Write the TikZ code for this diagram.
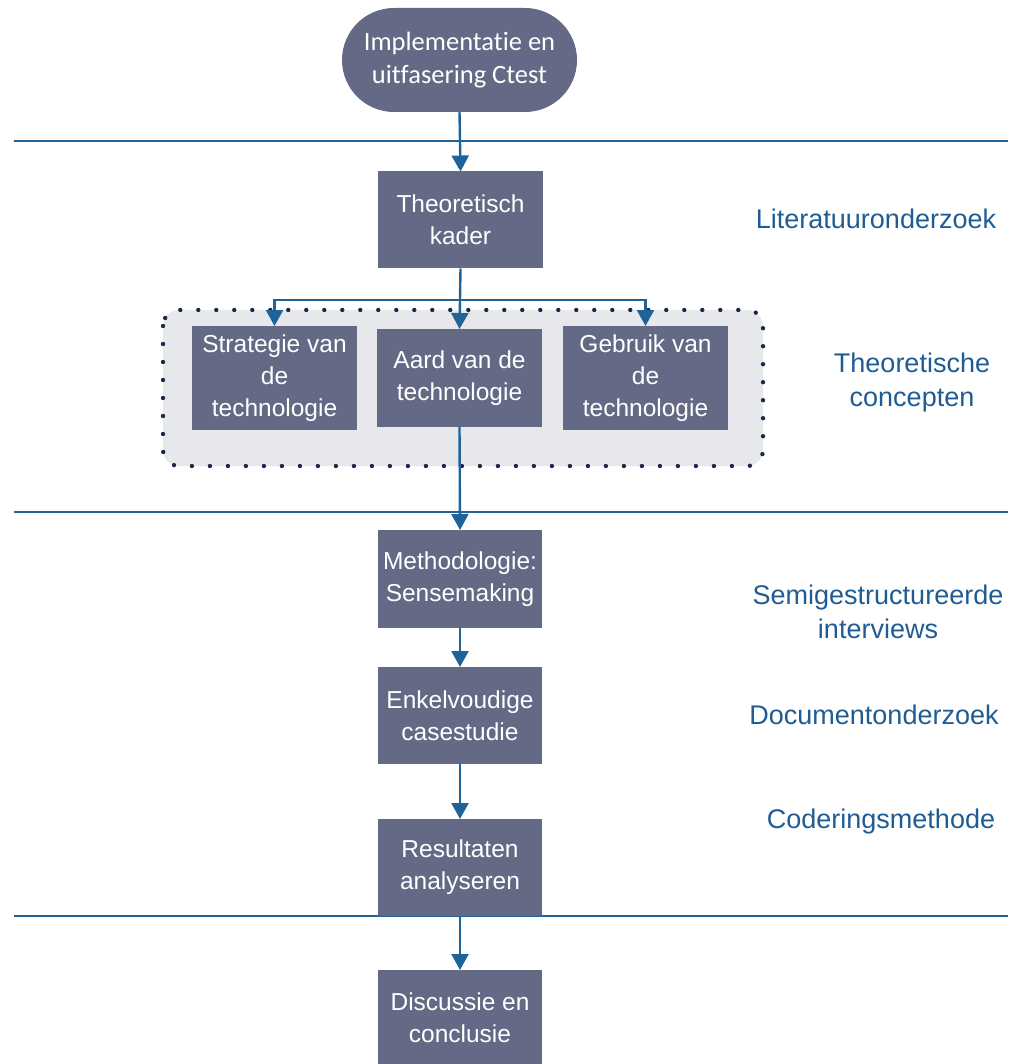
\documentclass[tikz,border=0pt]{standalone}
\usepackage{fontspec}
\setmainfont{Liberation Sans}
\newfontfamily\calfont[Ligatures=NoCommon]{Carlito}
\usetikzlibrary{arrows.meta,positioning}
\definecolor{boxc}{HTML}{646A85}
\definecolor{linec}{HTML}{1F6399}
\definecolor{labc}{HTML}{1F5C94}
\definecolor{greyc}{HTML}{E7E8EC}
\definecolor{dotc}{HTML}{1A2A4F}
\begin{document}
\begin{tikzpicture}[x=1pt,y=-1pt,
  every node/.style={inner sep=0pt,outer sep=0pt},
  stepbox/.style={fill=boxc,text=white,minimum width=165pt,minimum height=97pt,align=center,font=\fontsize{24.5}{32}\selectfont},
  lab/.style={text=labc,align=center,font=\fontsize{27}{34}\selectfont},
  conn/.style={draw=linec,line width=2.4pt,-{Triangle[width=17pt,length=16pt]}},
  sep/.style={draw=linec,line width=2pt}]
\useasboundingbox (0,0) rectangle (1008,1064);
% separator lines
\coordinate (s1a) at (14,141); \coordinate (s1b) at (1008,141);
\coordinate (s2a) at (14,512); \coordinate (s2b) at (1008,512);
\coordinate (s3a) at (14,916); \coordinate (s3b) at (1008,916);
\draw[sep] (s1a) -- (s1b);
\draw[sep] (s2a) -- (s2b);
\draw[sep] (s3a) -- (s3b);
% grey group
\node (grp) [fill=greyc,rounded corners=16pt,minimum width=600pt,minimum height=156pt] at (463,388) {};
\draw[dotc,line width=4.4pt,line cap=round,dash pattern=on 0pt off 18pt,rounded corners=16pt] (grp.north west) rectangle (grp.south east);
% nodes
\node (start) [fill=boxc,text=white,rounded corners=52pt,minimum width=235pt,minimum height=104pt,align=center,font=\calfont\fontsize{26.5}{33}\selectfont] at (459.5,60) {Implementatie en\\uitfasering Ctest};
\node (kader) [stepbox] at (460.5,220) {Theoretisch\\kader};
\node (strat) [stepbox,minimum height=104pt] at (274.5,378) {Strategie van\\de\\technologie};
\node (aard) [stepbox,minimum height=98pt] at (459.5,378) {Aard van de\\technologie};
\node (gebr) [stepbox,minimum height=104pt] at (645.5,378) {Gebruik van\\de\\technologie};
\node (meth) [stepbox,minimum width=164pt,minimum height=98pt] at (460,579) {Methodologie:\\Sensemaking};
\node (enk) [stepbox,minimum width=164pt,minimum height=97pt] at (460,715.5) {Enkelvoudige\\casestudie};
\node (res) [stepbox,minimum width=164pt,minimum height=97pt] at (460,867.5) {Resultaten\\analyseren};
\node (disc) [stepbox,minimum width=164pt,minimum height=96pt] at (460,1018) {Discussie en\\conclusie};
% labels
\node (l1) [lab] at (876,219) {Literatuuronderzoek};
\node (l2) [lab] at (912,383) {Theoretische\\concepten};
\node (l3) [lab] at (878,612) {Semigestructureerde\\interviews};
\node (l4) [lab] at (874,715) {Documentonderzoek};
\node (l5) [lab] at (881,822) {Coderingsmethode};
% connectors
\draw[conn] (start.south) -- (kader.north);
\coordinate (br) at (460,300);
\draw[draw=linec,line width=2.4pt] (kader.south) -- (br);
\draw[conn] (br) -| (strat.north);
\draw[conn] (br) -| (gebr.north);
\draw[conn] (br) -- (aard.north);
\draw[conn] (aard.south) -- (meth.north);
\draw[conn] (meth.south) -- (enk.north);
\draw[conn] (enk.south) -- (res.north);
\draw[conn] (res.south) -- (disc.north);
\end{tikzpicture}
\end{document}
